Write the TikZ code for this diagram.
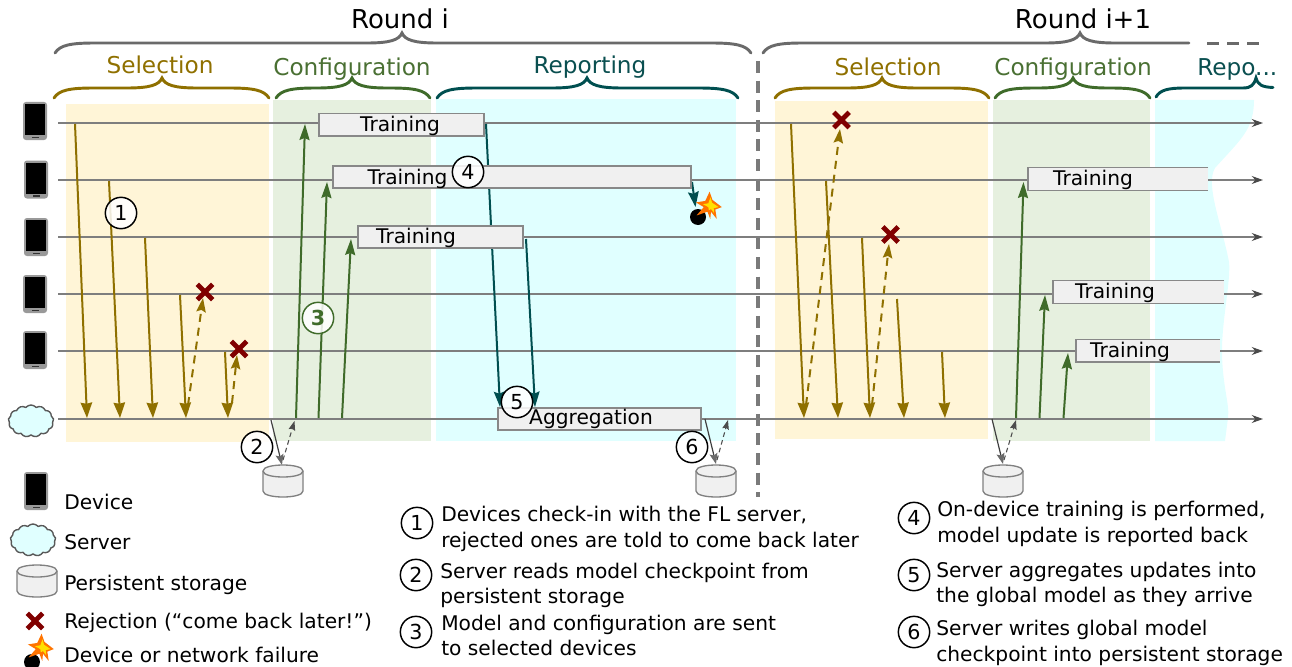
\documentclass[tikz,border=0pt]{standalone}
\usepackage{fontspec}
\setmainfont{DejaVu Sans}
\usetikzlibrary{arrows.meta,shapes.symbols,shapes.misc}
\definecolor{selband}{HTML}{FFF5D7}
\definecolor{cfgband}{HTML}{E6F0DF}
\definecolor{repband}{HTML}{E0FFFF}
\definecolor{selcol}{HTML}{8F7000}
\definecolor{cfgcol}{HTML}{3F6B2A}
\definecolor{repcol}{HTML}{004F50}
\definecolor{seltext}{HTML}{8F7000}
\definecolor{cfgtext}{HTML}{4A7033}
\definecolor{reptext}{HTML}{0A4F50}
\definecolor{rulecol}{HTML}{6A6A6A}
\definecolor{linecol}{HTML}{7E7E7E}
\definecolor{sepcol}{HTML}{7A7A7A}
\definecolor{rejcol}{HTML}{800000}
\definecolor{boxfill}{HTML}{F0F0F0}
\definecolor{sparkout}{HTML}{FF7300}
\definecolor{sparkin}{HTML}{FFE000}
\tikzset{
  head/.style={font=\fontsize{19.5pt}{23pt}\selectfont,anchor=base,inner sep=0pt},
  phase/.style={font=\fontsize{17.4pt}{20pt}\selectfont,anchor=base,inner sep=0pt},
  lab/.style={font=\fontsize{15.15pt}{18pt}\selectfont,anchor=base,inner sep=0pt},
  txt/.style={font=\fontsize{15.15pt}{18pt}\selectfont,anchor=base west,inner sep=0pt},
  tbox/.style={draw=rulecol!80,fill=boxfill,line width=1.1pt,inner sep=0pt,outer sep=0pt},
  obox/.style={fill=boxfill,inner sep=0pt,outer sep=0pt},
  timeline/.style={draw=linecol,line width=1.05pt},
  endtip/.style={-{Stealth[length=8.5pt,width=6pt,inset=2.8pt,color=rulecol!70!black]}},
  selarrow/.style={draw=selcol,line width=1.5pt,-{Stealth[length=11.5pt,width=8.5pt,inset=.8pt]}},
  seldash/.style={draw=selcol,line width=1.5pt,dash pattern=on 6pt off 4.5pt,-{Stealth[length=10.5pt,width=7pt,inset=1.5pt]}},
  cfgarrow/.style={draw=cfgcol,line width=1.5pt,-{Stealth[length=12pt,width=7.5pt,inset=1.5pt]}},
  reparrow/.style={draw=repcol,line width=1.5pt,-{Stealth[length=11.5pt,width=8pt,inset=1.5pt]}},
  stowrite/.style={draw=black!75,line width=0.9pt,-{Stealth[length=8pt,width=6pt,inset=1.5pt,color=rulecol,fill=rulecol]}},
  storead/.style={draw=black!70,line width=0.8pt,dash pattern=on 3.5pt off 2.5pt,-{Stealth[length=7pt,width=5pt,inset=1pt]}},
  num/.style={circle,draw=black,line width=1.1pt,fill=white,fill opacity=.85,text opacity=1,minimum size=23.5pt,inner sep=0pt,font=\fontsize{15.5pt}{18pt}\selectfont},
  rej/.style={cross out,draw=rejcol,line width=3.6pt,minimum size=11.5pt,inner sep=0pt,outer sep=0pt},
  storepen/.style={draw=black!50,fill=boxfill,line width=1pt},
  srv/.style={cloud,cloud puffs=13,cloud puff arc=100,aspect=1.5,draw=black!65,fill=repband,line width=1.05pt,minimum width=34pt,minimum height=24pt,inner sep=0pt},
  phonebody/.style={fill=black!40,rounded corners=2.2pt},
  bracepen/.style={line width=2.2pt,line cap=round},
  sep/.style={draw=sepcol,line width=2.3pt,dash pattern=on 9pt off 5.7pt},
}
% brace: x-left, x-tip, x-right, y of the flat part
\newcommand\cbrace[5]{%
  \draw[bracepen,draw=#1] (#2,#5+10) .. controls (#2+5,#5+2) and (#2+16,#5) .. (#2+40,#5)
    -- (#3-35,#5) .. controls (#3-12,#5) and (#3-3,#5-3) .. (#3,#5-10)
    .. controls (#3+3,#5-3) and (#3+12,#5) .. (#3+35,#5)
    -- (#4-40,#5) .. controls (#4-16,#5) and (#4-5,#5+2) .. (#4,#5+10);}
\newcommand\phone[2]{%
  \fill[phonebody] (#1-12,#2-19) rectangle (#1+12,#2+19);
  \fill[black] (#1-10,#2-17) rectangle (#1+10,#2+14);
  \fill[black!80] (#1-3.5,#2+15.6) rectangle (#1+3.5,#2+17);}
\newcommand\arw[6]{%
  \coordinate (#2s) at (#3,#4); \coordinate (#2e) at (#5,#6);
  \draw[#1] (#2s) -- (#2e);}
\newcommand\storage[2]{%
  \draw[storepen] (#1-20,#2-10) .. controls (#1-20,#2-18) and (#1+20,#2-18) .. (#1+20,#2-10)
    -- (#1+20,#2+10) .. controls (#1+20,#2+18) and (#1-20,#2+18) .. (#1-20,#2+10) -- cycle;
  \draw[storepen,fill=none] (#1-20,#2-10) .. controls (#1-20,#2-2) and (#1+20,#2-2) .. (#1+20,#2-10);}
\newcommand\spark[2]{%
  \begin{scope}[shift={(#1,#2)},scale=1.08]
    \fill[sparkout] (-1.3,-13.3) -- (1.3,-5.7) -- (10,1) -- (4,3.3) -- (5.3,12) -- (0,5.3)
      -- (-0.7,12) -- (-3.3,5.3) -- (-13.3,8.7) -- (-6.7,1) -- (-14,-3.3) -- (-5.3,-4.7) -- cycle;
    \fill[sparkin] (-0.5,-8) -- (1,-3) -- (7,1) -- (2.5,2) -- (2.8,6.5) -- (0,2.8)
      -- (-2,4) -- (-2.5,1) -- (-7.5,-1.7) -- (-2.5,-2.5) -- cycle;
  \end{scope}}
\begin{document}
\begin{tikzpicture}[x=0.75pt,y=-0.75pt]
\useasboundingbox (0,0) rectangle (1292,667);
% bands
\fill[selband] (66,104) rectangle (269,442);
\fill[cfgband] (273,100) rectangle (431,441);
\fill[repband] (436,99) rectangle (736,441);
\fill[selband] (775,101) rectangle (988,439);
\fill[cfgband] (993,100) rectangle (1150,441);
\fill[repband] (1155,100) -- (1254,100) .. controls (1254,130) and (1240,140) .. (1215,168)
  .. controls (1205,185) and (1222,225) .. (1229,262) .. controls (1231,280) and (1222,320) .. (1222,350)
  .. controls (1222,385) and (1230,405) .. (1228,418) -- (1225,441) -- (1155,441) -- cycle;
% braces
\cbrace{rulecol}{55}{402}{751}{43}
\draw[bracepen,draw=rulecol] (763,53) .. controls (768,45) and (779,43) .. (803,43) -- (1045,43)
  .. controls (1068,43) and (1077,40) .. (1080,33) .. controls (1083,40) and (1092,43) .. (1115,43) -- (1189,43);
\draw[bracepen,draw=rulecol,line cap=butt,line width=2.5pt,dash pattern=on 9pt off 6pt] (1207,43.5) -- (1259,43.5);
\cbrace{selcol}{54}{162}{269}{88}
\cbrace{cfgcol}{276}{352}{430}{88}
\cbrace{repcol}{437}{587}{738}{88}
\cbrace{selcol}{775}{882}{989}{88}
\cbrace{cfgcol}{995}{1073}{1150}{88}
\draw[bracepen,draw=repcol] (1156,97) .. controls (1160,90) and (1168,88) .. (1185,88) -- (1243,88)
  .. controls (1251,88) and (1254,85) .. (1256,78) .. controls (1258,85) and (1262,87) .. (1273,87.5);
% round separator
\coordinate (septop) at (758,61); \coordinate (sepbot) at (758,497);
\draw[sep] (septop) -- (sepbot);
% headings
\node[head] (hr1) at (400,29) {Round i};
\node[head] (hr2) at (1083,29) {Round i+1};
\node[phase,text=seltext] (hs1) at (160,74) {Selection};
\node[phase,text=cfgtext] (hc1) at (352,75) {Configuration};
\node[phase,text=reptext] (hp1) at (590,74) {Reporting};
\node[phase,text=seltext] (hs2) at (888,75) {Selection};
\node[phase,text=cfgtext] (hc2) at (1073,75) {Configuration};
\node[phase,text=reptext,anchor=base west] (hp2) at (1197,75) {Repo...};
% devices
\phone{35}{121}\phone{36}{179.5}\phone{36}{237}\phone{35}{294}\phone{35}{350}
\node[srv] (server) at (31,421) {};
% timelines
\coordinate (d1) at (58,123); \coordinate (d2) at (58,180); \coordinate (d3) at (58,237);
\coordinate (d4) at (58,294); \coordinate (d5) at (58,351); \coordinate (d6) at (58,419);
\coordinate (z1) at (1263,123); \coordinate (z2) at (1263,180); \coordinate (z3) at (1263,237);
\coordinate (z4) at (1263,294); \coordinate (z5) at (1263,351); \coordinate (z6) at (1263,419);
\draw[timeline,endtip] (d1) -- (z1);
\draw[timeline,endtip] (d2) -- (z2);
\draw[timeline,endtip] (d3) -- (z3);
\draw[timeline,endtip] (d4) -- (z4);
\draw[timeline,endtip] (d5) -- (z5);
\draw[timeline,endtip] (d6) -- (z6);
% selection, round i
\arw{selarrow}{a}{75}{124}{87}{418}
\arw{selarrow}{b}{109}{181}{120}{418}
\arw{selarrow}{c}{145}{238}{153}{418}
\arw{selarrow}{d}{180}{295}{186}{418}
\arw{selarrow}{e}{225}{352}{228}{418}
\arw{seldash}{f}{188}{405}{203}{298}
\arw{seldash}{g}{232}{403}{237}{355}
\node[rej] (x1) at (205,292) {};
\node[rej] (x2) at (239,349) {};
% configuration, round i
\arw{cfgarrow}{h}{296}{418}{305}{124}
\arw{cfgarrow}{i}{318.5}{418}{327}{182}
\arw{cfgarrow}{j}{342}{418}{351}{239}
% reporting, round i
\arw{reparrow}{k}{486}{124}{500}{407}
\arw{reparrow}{l}{526}{239}{535}{407}
\arw{reparrow}{m}{692}{182}{695.5}{207}
% selection, round i+1
\arw{selarrow}{n}{791}{124}{804}{418}
\arw{selarrow}{o}{826}{181}{838}{418}
\arw{selarrow}{p}{862}{238}{870}{418}
\arw{selarrow}{q}{897}{299}{904}{418}
\arw{selarrow}{r}{942}{352}{945}{418}
\arw{seldash}{s}{806}{405}{840}{129}
\arw{seldash}{t}{872}{405}{889}{244}
\node[rej] (x3) at (841.5,120) {};
\node[rej] (x4) at (890.5,234.5) {};
% configuration, round i+1
\arw{cfgarrow}{u}{1016}{418}{1023.5}{182}
\arw{cfgarrow}{v}{1039.5}{418}{1045}{295}
\arw{cfgarrow}{w}{1063.5}{418}{1068}{353}
% storage links
\arw{stowrite}{aa}{271}{420}{282}{465}
\arw{storead}{ab}{283}{460}{294.5}{421}
\arw{stowrite}{ac}{705}{419}{716}{464}
\arw{storead}{ad}{717}{460}{728}{420}
\arw{stowrite}{ae}{992}{419}{1003}{464}
\arw{storead}{af}{1004}{460}{1016}{420}
% task boxes
\node[tbox,minimum width=123.75pt,minimum height=16.9pt] (t1) at (401.5,124.5) {};
\node[tbox,minimum width=268.5pt,minimum height=16.5pt] (t2) at (512,177) {};
\node[tbox,minimum width=123.75pt,minimum height=16.5pt] (t3) at (440.5,237) {};
\node[tbox,minimum width=152.25pt,minimum height=16.5pt] (t4) at (599.5,419) {};
\node[obox,minimum width=135pt,minimum height=16.9pt] (t5) at (1118,179) {};
\node[obox,minimum width=128.25pt,minimum height=16.9pt] (t6) at (1138.5,292) {};
\node[obox,minimum width=108pt,minimum height=16.9pt] (t7) at (1148,350.5) {};
\foreach \b in {t5,t6,t7}
  \draw[draw=rulecol!80,line width=1.1pt] (\b.north east) -- (\b.north west) -- (\b.south west) -- (\b.south east);
\node[lab] (lt1) at (400,132) {Training};
\node[lab] (lt2) at (407.5,184) {Training};
\node[lab] (lt3) at (416,243) {Training};
\node[lab] (lt4) at (591,424) {Aggregation};
\node[lab] (lt5) at (1093,185) {Training};
\node[lab] (lt6) at (1115,298) {Training};
\node[lab] (lt7) at (1130,357) {Training};
% failure
\coordinate (bombc) at (698,217);
\fill[black] (bombc) circle (8);
\spark{711}{206}
% numbers
\node[num] (n1) at (121,213) {1};
\node[num] (n2) at (257,447) {2};
\node[num,draw=cfgcol,text=cfgcol,font=\fontsize{15.5pt}{18pt}\bfseries] (n3) at (318,318) {3};
\node[num] (n4) at (468,172) {4};
\node[num] (n5) at (517,402) {5};
\node[num] (n6) at (692,447) {6};
% storage
\storage{283}{481}
\storage{716}{481}
\storage{1003}{481}
% legend
\phone{36}{491}
\node[srv] (lserver) at (33,540) {};
\storage{37}{581}
\node[rej] (lrej) at (35,621) {};
\coordinate (lbomb) at (32,662);
\fill[black] (lbomb) circle (8);
\spark{43}{648}
\node[txt] (l1) at (64,509) {Device};
\node[txt] (l2) at (64,549) {Server};
\node[txt] (l3) at (64,590) {Persistent storage};
\node[txt] (l4) at (64,628) {Rejection (“come back later!”)};
\node[txt] (l5) at (64,662) {Device or network failure};
% notes
\node[num] (k1) at (417,523) {1};
\node[num] (k2) at (416,575) {2};
\node[num] (k3) at (416,632) {3};
\node[num] (k4) at (914,518) {4};
\node[num] (k5) at (914,575) {5};
\node[num] (k6) at (914,632) {6};
\node[txt] (e1a) at (441,521) {Devices check-in with the FL server,};
\node[txt] (e1b) at (441,547) {rejected ones are told to come back later};
\node[txt] (e2a) at (440,578) {Server reads model checkpoint from};
\node[txt] (e2b) at (440,603) {persistent storage};
\node[txt] (e3a) at (441,630) {Model and configuration are sent};
\node[txt] (e3b) at (441,655) {to selected devices};
\node[txt] (e4a) at (937,516) {On-device training is performed,};
\node[txt] (e4b) at (937,542) {model update is reported back};
\node[txt] (e5a) at (936,577) {Server aggregates updates into};
\node[txt] (e5b) at (936,602) {the global model as they arrive};
\node[txt] (e6a) at (936,635) {Server writes global model};
\node[txt] (e6b) at (936,661) {checkpoint into persistent storage};
\end{tikzpicture}
\end{document}
